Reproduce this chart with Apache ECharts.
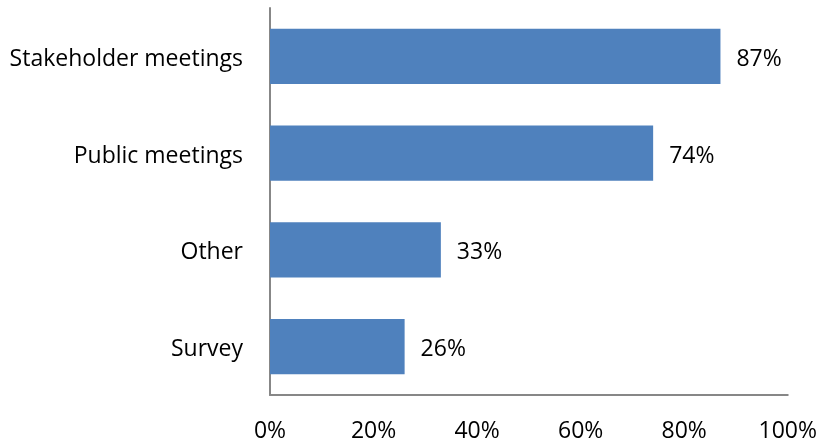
<!DOCTYPE html>
<html><head><meta charset="utf-8">
<script src="https://cdn.jsdelivr.net/npm/echarts@6/dist/echarts.min.js"></script>
<style>html,body{margin:0;padding:0;background:#fff}#c{width:820px;height:445px}</style>
</head><body><div id="c"></div>
<script>
const categories = ["Survey", "Other", "Public meetings", "Stakeholder meetings"];
const values = [26, 33, 74, 87];
const xTicks = [0, 20, 40, 60, 80, 100];

const FONT = "Open Sans";
const FS = 23;
const chart = echarts.init(document.getElementById('c'), null, {renderer: 'canvas'});
chart.setOption({
  animation: false,
  grid: {left: 270, right: 32, top: 8, bottom: 50, containLabel: false},
  xAxis: {
    type: 'value', min: xTicks[0], max: xTicks[xTicks.length - 1], interval: 20,
    axisLine: {show: true, lineStyle: {color: '#878787', width: 2}},
    axisTick: {show: false},
    splitLine: {show: false},
    axisLabel: {formatter: '{value}%', fontFamily: FONT, fontSize: FS, color: '#000', margin: 25}
  },
  yAxis: {
    type: 'category', data: categories,
    axisLine: {show: true, lineStyle: {color: '#878787', width: 2}},
    axisTick: {show: false},
    axisLabel: {
      fontFamily: FONT, fontSize: FS, color: '#000', margin: 27,
      formatter: function (v) { return '{a|' + v + '}'; },
      rich: {a: {fontFamily: FONT, fontSize: FS, color: '#000', padding: [6, 0, 0, 0]}}
    }
  },
  series: [{
    type: 'bar', data: values, barCategoryGap: '43%',
    itemStyle: {color: '#4F81BD'},
    label: {show: true, position: 'right', distance: 16, offset: [0, 3], formatter: '{c}%', fontFamily: FONT, fontSize: FS, color: '#000'}
  }]
});
</script></body></html>
